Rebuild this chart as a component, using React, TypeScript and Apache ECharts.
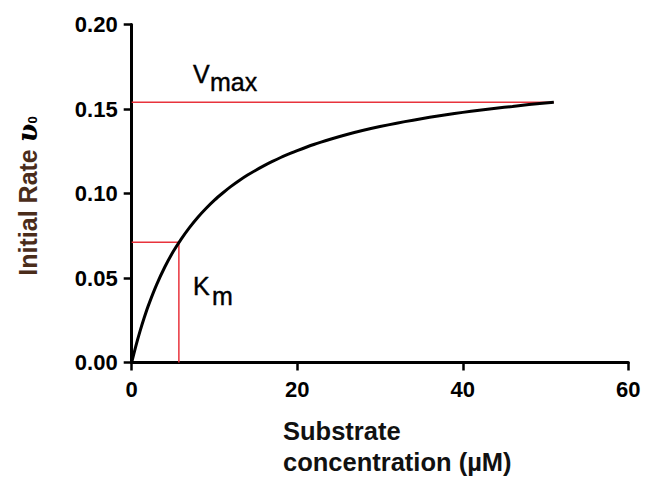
import React, { useEffect, useRef } from "react";
import * as echarts from "echarts";

// Michaelis–Menten curve: [substrate µM, initial rate]
const curvePoints: [number, number][] = [
  [0, 0], [0.5, 0.0097], [1, 0.0184], [1.5, 0.0263], [2, 0.0335], [3, 0.0459],
  [4, 0.0565], [5, 0.0655], [6, 0.0732], [7, 0.08], [8, 0.086], [9, 0.0913],
  [10, 0.0961], [11, 0.1003], [12, 0.1042], [13, 0.1077], [14, 0.1109],
  [15, 0.1138], [16, 0.1165], [17, 0.119], [18, 0.1213], [19, 0.1234],
  [20, 0.1254], [22, 0.129], [24, 0.1321], [26, 0.1349], [28, 0.1374],
  [30, 0.1396], [32, 0.1416], [34, 0.1434], [36, 0.1451], [38, 0.1466],
  [40, 0.148], [42, 0.1493], [44, 0.1505], [46, 0.1515], [48, 0.1526],
  [51, 0.154],
];
const vmaxLine: [number, number][] = [[0, 0.154], [51, 0.154]];
const kmLine: [number, number][] = [[0, 0.0711], [5.7, 0.0711], [5.7, 0]];
const xTicks = [0, 20, 40, 60];
const yTicks = [0, 0.05, 0.1, 0.15, 0.2];

const FONT = "'Liberation Sans', Arial, sans-serif";

export default function App() {
  const ref = useRef<HTMLDivElement>(null);
  useEffect(() => {
    document.body.style.margin = "0";
    const chart = echarts.init(ref.current!, null, { renderer: "svg" });
    const axisCommon = {
      axisLine: { show: true, lineStyle: { color: "#000", width: 3 } },
      axisTick: { show: true, length: 8, lineStyle: { color: "#000", width: 2.5 } },
      splitLine: { show: false },
    };
    const labelText = (text: string, x: number, y: number) => ({
      type: "text",
      x,
      y,
      style: {
        text,
        font: `25px ${FONT}`,
        fill: "#000",
        stroke: "#000",
        lineWidth: 0.4,
        align: "left",
        verticalAlign: "bottom",
      },
    });
    chart.setOption({
      animation: false,
      backgroundColor: "#fff",
      grid: { left: 131.7, right: 26.7, top: 24.5, bottom: 118.5 },
      xAxis: {
        type: "value",
        min: xTicks[0],
        max: xTicks[xTicks.length - 1],
        interval: 20,
        ...axisCommon,
        axisLabel: { margin: 16, color: "#000", fontSize: 22, fontWeight: "bold", fontFamily: FONT },
      },
      yAxis: {
        type: "value",
        min: yTicks[0],
        max: yTicks[yTicks.length - 1],
        interval: 0.05,
        ...axisCommon,
        axisLabel: {
          margin: 14,
          color: "#000",
          fontSize: 22,
          fontWeight: "bold",
          fontFamily: FONT,
          formatter: (v: number) => v.toFixed(2),
        },
      },
      series: [
        {
          type: "line",
          data: vmaxLine,
          symbol: "none",
          lineStyle: { color: "#e8333c", width: 1.5 },
          z: 2,
        },
        {
          type: "line",
          data: kmLine,
          symbol: "none",
          lineStyle: { color: "#e8333c", width: 1.5 },
          z: 2,
        },
        {
          type: "line",
          data: curvePoints,
          symbol: "none",
          smooth: 0.3,
          lineStyle: { color: "#000", width: 3 },
          z: 3,
        },
      ],
      graphic: [
        {
          type: "text",
          x: 283,
          y: 415,
          style: {
            text: "Substrate\nconcentration (µM)",
            font: `bold 25.5px ${FONT}`,
            lineHeight: 31,
            fill: "#111",
            align: "left",
            verticalAlign: "top",
          },
        },
        {
          type: "text",
          x: 27,
          y: 196,
          rotation: Math.PI / 2,
          style: {
            text: "{a|Initial Rate }{b|ʋ}{c|0}",
            align: "center",
            verticalAlign: "middle",
            rich: {
              a: { font: `bold 25px ${FONT}`, fill: "#4a2c1a", verticalAlign: "bottom" },
              b: { font: `italic bold 27px 'DejaVu Serif', serif`, fill: "#000" },
              c: { font: `bold 13px ${FONT}`, fill: "#000", padding: [10, 0, 0, 0] },
            },
          },
        },
        labelText("V", 193, 86),
        labelText("max", 210, 94),
        labelText("K", 193, 298),
        labelText("m", 212, 308),
      ],
    });
    return () => chart.dispose();
  }, []);
  return <div ref={ref} style={{ width: 655, height: 481 }} />;
}
